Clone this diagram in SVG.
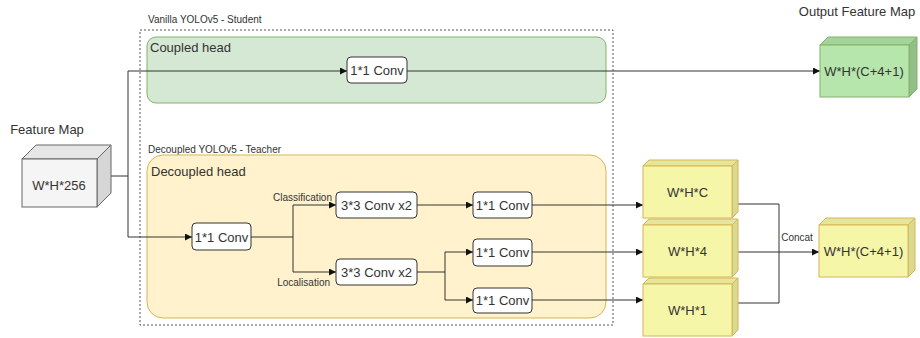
<svg xmlns="http://www.w3.org/2000/svg" width="920" height="338" viewBox="0 0 920 338">
<defs>
<marker id="arr" viewBox="0 0 10 10" refX="10" refY="5" markerWidth="7" markerHeight="7" markerUnits="userSpaceOnUse" orient="auto">
<path d="M0,0 L10,5 L0,10 Z" fill="#111"/>
</marker>
<style>
text{font-family:"Liberation Sans",Arial,sans-serif;fill:#333}
.lbl{font-size:13px}
.sm{font-size:10px}
.box{fill:#fff;stroke:#333;stroke-width:1}
.ln{fill:none;stroke:#333;stroke-width:1}
.gf{fill:#b6e6ab;stroke:#82b366}
.gt{fill:#a6d39b;stroke:#82b366}
.gs{fill:#93bd89;stroke:#82b366}
.yf{fill:#f6f6a8;stroke:#d6b656}
.yt{fill:#e6e69a;stroke:#d6b656}
.ys{fill:#d9d98f;stroke:#d6b656}
.wf{fill:#f5f5f5;stroke:#666}
.wt{fill:#e6e6e6;stroke:#666}
.ws{fill:#d6d6d6;stroke:#666}
</style>
</defs>
<rect width="920" height="338" fill="#fff"/>

<g id="student">
<rect x="140" y="30" width="473" height="295" fill="none" stroke="#555" stroke-dasharray="2,2"/>
<text x="148" y="23" class="sm">Vanilla YOLOv5 - Student</text>
<text x="148" y="153" class="sm">Decoupled YOLOv5 - Teacher</text>
</g>
<g id="coupled-head">
<rect x="147" y="37" width="459" height="66" rx="9" fill="#d5e8d4" stroke="#82b366"/>
<text x="150" y="52" class="lbl">Coupled head</text>
</g>
<g id="decoupled-head">
<rect x="147" y="155" width="459" height="163" rx="16" fill="#fff2cc" stroke="#d6b656"/>
<text x="151" y="176" class="lbl">Decoupled head</text>
</g>

<g id="connectors">
<path class="ln" d="M110,176 H128 M128,71 V237"/>
<path class="ln" d="M128,71 H347" marker-end="url(#arr)"/>
<path class="ln" d="M407,71 H820" marker-end="url(#arr)"/>
<path class="ln" d="M128,237 H192" marker-end="url(#arr)"/>
<path class="ln" d="M251,237 H293 M293,205 V272"/>
<path class="ln" d="M293,205 H336" marker-end="url(#arr)"/>
<path class="ln" d="M293,272 H336" marker-end="url(#arr)"/>
<path class="ln" d="M417,205 H473" marker-end="url(#arr)"/>
<path class="ln" d="M417,272 H445 M445,252 V300"/>
<path class="ln" d="M445,252 H473" marker-end="url(#arr)"/>
<path class="ln" d="M445,300 H473" marker-end="url(#arr)"/>
<path class="ln" d="M532,205 H643" marker-end="url(#arr)"/>
<path class="ln" d="M532,252 H643" marker-end="url(#arr)"/>
<path class="ln" d="M532,300 H643" marker-end="url(#arr)"/>
<path class="ln" d="M738,204 H779 V303 H738"/>
<path class="ln" d="M738,252 H819" marker-end="url(#arr)"/>
<text x="332" y="201" class="sm" text-anchor="end">Classification</text>
<text x="330" y="286" class="sm" text-anchor="end">Localisation</text>
<text x="797" y="241" class="sm" text-anchor="middle">Concat</text>
</g>

<g id="feature-map">
<text x="47" y="134" class="lbl" text-anchor="middle">Feature Map</text>
<polygon class="wt" points="22,159 36,145 111,145 97,159"/>
<polygon class="ws" points="97,159 111,145 111,193 97,207"/>
<rect class="wf" x="22" y="159" width="75" height="48"/>
<text x="59" y="190" class="lbl" text-anchor="middle">W*H*256</text>
</g>

<g id="conv-coupled">
<rect class="box" x="347" y="57" width="60" height="26" rx="4"/>
<text x="377" y="75" class="lbl" text-anchor="middle">1*1 Conv</text>
</g>
<g id="conv-dec">
<rect class="box" x="192" y="223" width="59" height="27" rx="4"/>
<text x="221.5" y="241.5" class="lbl" text-anchor="middle">1*1 Conv</text>
</g>
<g id="conv3-cls">
<rect class="box" x="336" y="192" width="81" height="26" rx="4"/>
<text x="376.5" y="209.5" class="lbl" text-anchor="middle">3*3 Conv x2</text>
</g>
<g id="conv3-loc">
<rect class="box" x="336" y="259" width="81" height="26" rx="4"/>
<text x="376.5" y="276.5" class="lbl" text-anchor="middle">3*3 Conv x2</text>
</g>
<g id="conv-cls">
<rect class="box" x="473" y="192" width="59" height="26" rx="4"/>
<text x="502.5" y="209.5" class="lbl" text-anchor="middle">1*1 Conv</text>
</g>
<g id="conv-box">
<rect class="box" x="473" y="239" width="59" height="27" rx="4"/>
<text x="502.5" y="257" class="lbl" text-anchor="middle">1*1 Conv</text>
</g>
<g id="conv-obj">
<rect class="box" x="473" y="288" width="59" height="25" rx="4"/>
<text x="502.5" y="305" class="lbl" text-anchor="middle">1*1 Conv</text>
</g>

<g id="out-student">
<text x="857" y="16" class="lbl" text-anchor="middle">Output Feature Map</text>
<polygon class="gt" points="820,45 828,37 917,37 909,45"/>
<polygon class="gs" points="909,45 917,37 917,89 909,97"/>
<rect class="gf" x="820" y="45" width="89" height="52"/>
<text x="864" y="76" class="lbl" text-anchor="middle">W*H*(C+4+1)</text>
</g>

<g id="cube-c">
<polygon class="yt" points="643,166 649,160 738,160 732,166"/>
<polygon class="ys" points="732,166 738,160 738,212 732,218"/>
<rect class="yf" x="643" y="166" width="89" height="52"/>
<text x="687.5" y="197" class="lbl" text-anchor="middle">W*H*C</text>
</g>
<g id="cube-4">
<polygon class="yt" points="643,225 649,219 738,219 732,225"/>
<polygon class="ys" points="732,225 738,219 738,271 732,277"/>
<rect class="yf" x="643" y="225" width="89" height="52"/>
<text x="687.5" y="256" class="lbl" text-anchor="middle">W*H*4</text>
</g>
<g id="cube-1">
<polygon class="yt" points="643,284 649,278 738,278 732,284"/>
<polygon class="ys" points="732,284 738,278 738,330 732,336"/>
<rect class="yf" x="643" y="284" width="89" height="52"/>
<text x="687.5" y="315" class="lbl" text-anchor="middle">W*H*1</text>
</g>

<g id="out-teacher">
<polygon class="yt" points="819,225 826,218 915,218 908,225"/>
<polygon class="ys" points="908,225 915,218 915,270 908,277"/>
<rect class="yf" x="819" y="225" width="89" height="52"/>
<text x="863.5" y="256" class="lbl" text-anchor="middle">W*H*(C+4+1)</text>
</g>
</svg>
